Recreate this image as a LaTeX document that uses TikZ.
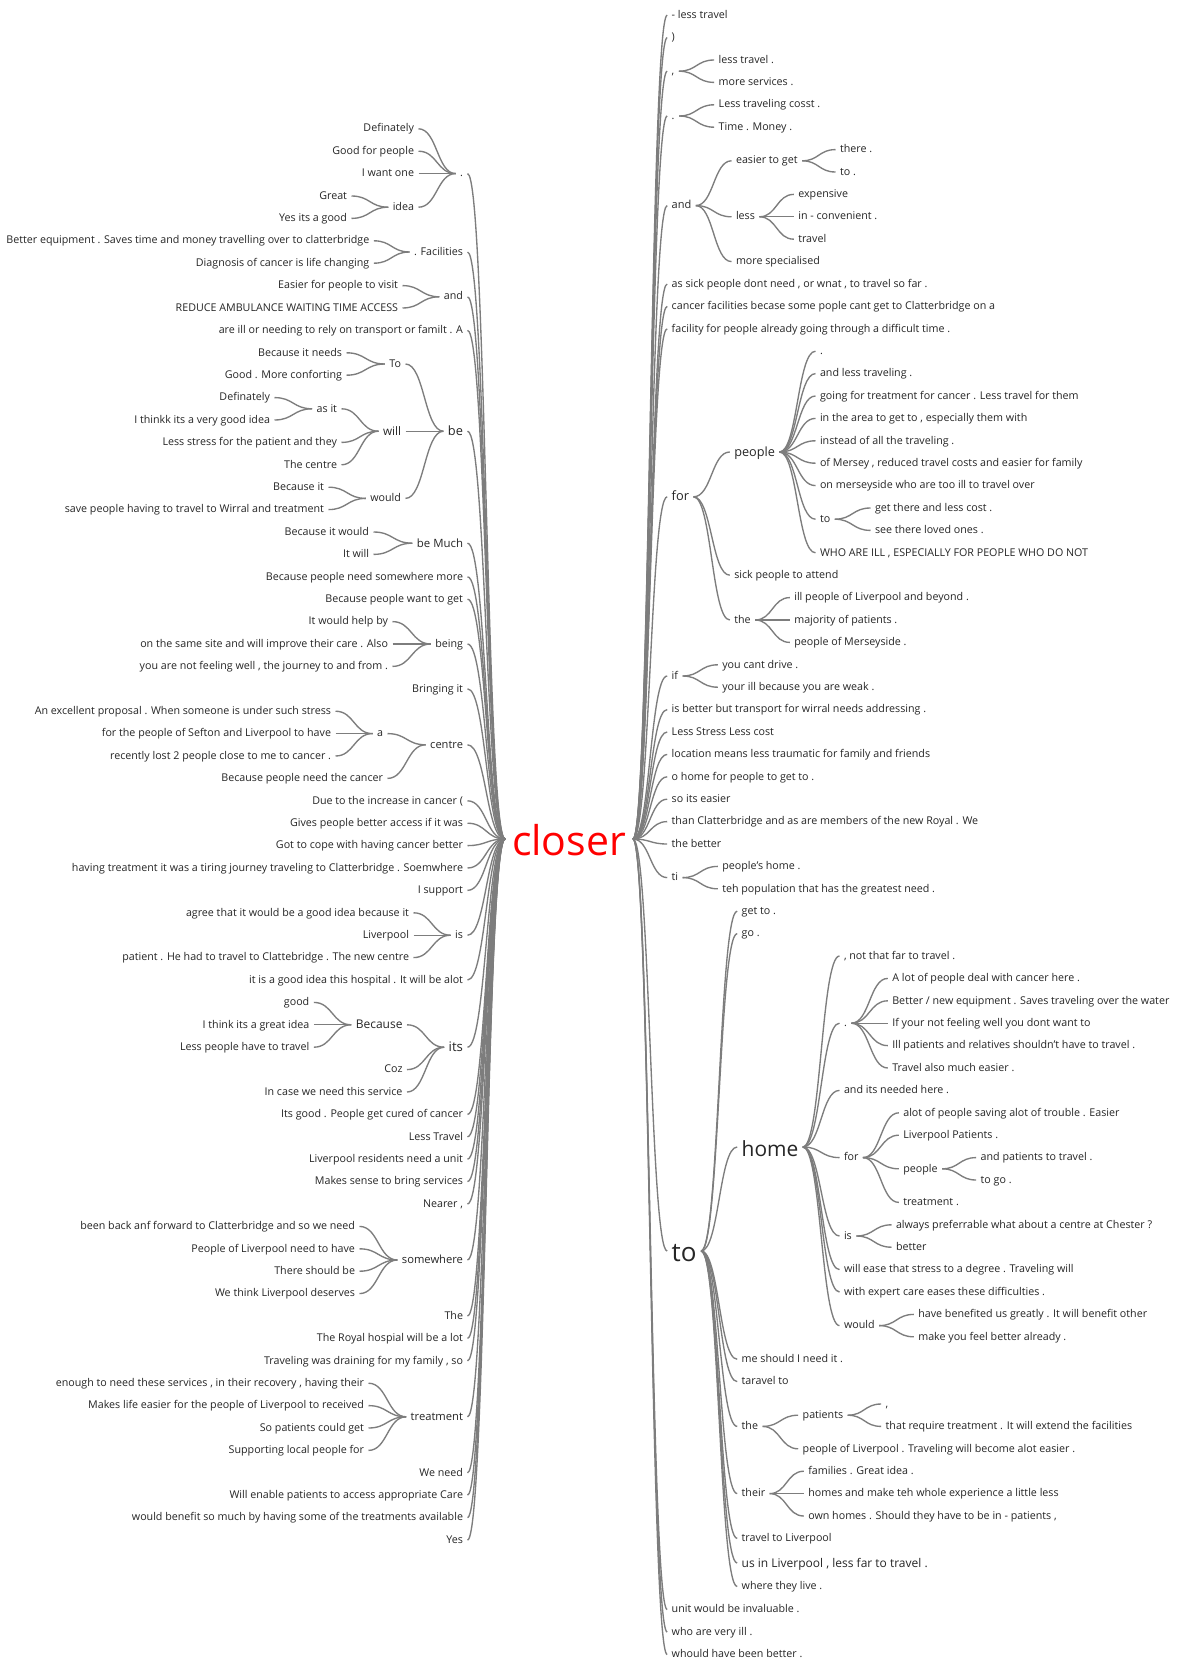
\documentclass[tikz,border=0pt]{standalone}
\usepackage{fontspec}
\setmainfont{Open Sans}
\usetikzlibrary{calc}
\definecolor{txt}{HTML}{262626}
\definecolor{lnk}{HTML}{7D7D7D}
\definecolor{rootred}{HTML}{FF0000}
\newcommand\rowL[1]{128.8+22.4*(#1)}
\newcommand\rowR[1]{15.2+22.4*(#1)}
\newcommand\fs[1]{\fontsize{#1}{#1}\selectfont}
\begin{document}
\begin{tikzpicture}[x=1pt,y=-1pt,
  w/.style={font=\fs{10.7}, text=txt, inner xsep=4.5pt, inner ysep=0pt, outer sep=0pt, text height=8pt, text depth=1.6pt},
  wl/.style={w,anchor=east},
  wr/.style={w,anchor=west},
  mid/.style={text height=9.2pt, text depth=1.2pt},
  link/.style={draw=lnk, line width=1.35pt, to path={let \p1=(\tikztostart), \p2=(\tikztotarget) in .. controls ({0.5*\x1+0.5*\x2},\y1) and ({0.5*\x1+0.5*\x2},\y2) .. (\tikztotarget)}}
]
\fill[white] (0,0) rectangle (1184,1661);
\useasboundingbox (0,0) rectangle (1184,1661);

% root
\node[w, anchor=center, font=\fs{41}, text=rootred, inner xsep=7pt, text height=34pt, text depth=2pt] (closer) at (569,839) {closer};

% ---------------- left side ----------------
\node[wl] (Ldot) at (467.5,{\rowL{2}}) {.};
\node[wl] (l0) at (418.5,{\rowL{0}}) {Definately};
\node[wl] (l1) at (418.5,{\rowL{1}}) {Good for people};
\node[wl] (l2) at (418.5,{\rowL{2}}) {I want one};
\node[wl] (Lidea) at (418.5,{\rowL{3.5}}) {idea};
\node[wl] (l3) at (351.5,{\rowL{3}}) {Great};
\node[wl] (l4) at (351.5,{\rowL{4}}) {Yes its a good};
\node[wl] (Lfac) at (467.5,{\rowL{5.5}}) {. Facilities};
\node[wl] (l5) at (373.8,{\rowL{5}}) {Better equipment . Saves time and money travelling over to clatterbridge};
\node[wl] (l6) at (373.8,{\rowL{6}}) {Diagnosis of cancer is life changing};
\node[wl] (Land) at (467.5,{\rowL{7.5}}) {and};
\node[wl] (l7) at (402.5,{\rowL{7}}) {Easier for people to visit};
\node[wl] (l8) at (402.5,{\rowL{8}}) {REDUCE AMBULANCE WAITING TIME ACCESS};
\node[wl] (l9) at (467.5,{\rowL{9}}) {are ill or needing to rely on transport or familt . A};
\node[wl, mid, font=\fs{12.8}] (Lbe) at (467.5,{\rowL{13.5}}) {be};
\node[wl] (LTo) at (405.5,{\rowL{10.5}}) {To};
\node[wl] (l10) at (346.5,{\rowL{10}}) {Because it needs};
\node[wl] (l11) at (346.5,{\rowL{11}}) {Good . More conforting};
\node[wl, mid, font=\fs{11.7}] (Lwill) at (405.5,{\rowL{13.5}}) {will};
\node[wl] (Lasit) at (341.5,{\rowL{12.5}}) {as it};
\node[wl] (l12) at (274.5,{\rowL{12}}) {Definately};
\node[wl] (l13) at (274.5,{\rowL{13}}) {I thinkk its a very good idea};
\node[wl] (l14) at (341.5,{\rowL{14}}) {Less stress for the patient and they};
\node[wl] (l15) at (341.5,{\rowL{15}}) {The centre};
\node[wl] (Lwould) at (405.5,{\rowL{16.5}}) {would};
\node[wl] (l16) at (328.5,{\rowL{16}}) {Because it};
\node[wl] (l17) at (328.5,{\rowL{17}}) {save people having to travel to Wirral and treatment};
\node[wl, mid, font=\fs{11.4}] (Lbemuch) at (467.5,{\rowL{18.5}}) {be Much};
\node[wl] (l18) at (373.5,{\rowL{18}}) {Because it would};
\node[wl] (l19) at (373.5,{\rowL{19}}) {It will};
\node[wl] (l20) at (467.5,{\rowL{20}}) {Because people need somewhere more};
\node[wl] (l21) at (467.5,{\rowL{21}}) {Because people want to get};
\node[wl] (Lbeing) at (467.5,{\rowL{23}}) {being};
\node[wl] (l22) at (392.5,{\rowL{22}}) {It would help by};
\node[wl] (l23) at (392.5,{\rowL{23}}) {on the same site and will improve their care . Also};
\node[wl] (l24) at (392.5,{\rowL{24}}) {you are not feeling well , the journey to and from .};
\node[wl] (l25) at (467.5,{\rowL{25}}) {Bringing it};
\node[wl, font=\fs{11.1}] (Lcentre) at (467.5,{\rowL{27.5}}) {centre};
\node[wl] (La) at (387.5,{\rowL{27}}) {a};
\node[wl] (l26) at (335.5,{\rowL{26}}) {An excellent proposal . When someone is under such stress};
\node[wl] (l27) at (335.5,{\rowL{27}}) {for the people of Sefton and Liverpool to have};
\node[wl] (l28) at (335.5,{\rowL{28}}) {recently lost 2 people close to me to cancer .};
\node[wl] (l29) at (387.5,{\rowL{29}}) {Because people need the cancer};
\node[wl] (l30) at (467.5,{\rowL{30}}) {Due to the increase in cancer (};
\node[wl] (l31) at (467.5,{\rowL{31}}) {Gives people better access if it was};
\node[wl] (l32) at (467.5,{\rowL{32}}) {Got to cope with having cancer better};
\node[wl] (l33) at (467.5,{\rowL{33}}) {having treatment it was a tiring journey traveling to Clatterbridge . Soemwhere};
\node[wl] (l34) at (467.5,{\rowL{34}}) {I support};
\node[wl] (Lis) at (467.5,{\rowL{36}}) {is};
\node[wl] (l35) at (413.5,{\rowL{35}}) {agree that it would be a good idea because it};
\node[wl] (l36) at (413.5,{\rowL{36}}) {Liverpool};
\node[wl] (l37) at (413.5,{\rowL{37}}) {patient . He had to travel to Clattebridge . The new centre};
\node[wl] (l38) at (467.5,{\rowL{38}}) {it is a good idea this hospital . It will be alot};
\node[wl, mid, font=\fs{13.2}] (Lits) at (467.5,{\rowL{41}}) {its};
\node[wl, mid, font=\fs{12}] (LBecause) at (407,{\rowL{40}}) {Because};
\node[wl] (l39) at (313.8,{\rowL{39}}) {good};
\node[wl] (l40) at (313.8,{\rowL{40}}) {I think its a great idea};
\node[wl] (l41) at (313.8,{\rowL{41}}) {Less people have to travel};
\node[wl] (l42) at (407,{\rowL{42}}) {Coz};
\node[wl] (l43) at (407,{\rowL{43}}) {In case we need this service};
\node[wl] (l44) at (467.5,{\rowL{44}}) {Its good . People get cured of cancer};
\node[wl] (l45) at (467.5,{\rowL{45}}) {Less Travel};
\node[wl] (l46) at (467.5,{\rowL{46}}) {Liverpool residents need a unit};
\node[wl] (l47) at (467.5,{\rowL{47}}) {Makes sense to bring services};
\node[wl] (l48) at (467.5,{\rowL{48}}) {Nearer ,};
\node[wl, font=\fs{11.2}] (Lsomewhere) at (467.5,{\rowL{50.5}}) {somewhere};
\node[wl] (l49) at (359.5,{\rowL{49}}) {been back anf forward to Clatterbridge and so we need};
\node[wl] (l50) at (359.5,{\rowL{50}}) {People of Liverpool need to have};
\node[wl] (l51) at (359.5,{\rowL{51}}) {There should be};
\node[wl] (l52) at (359.5,{\rowL{52}}) {We think Liverpool deserves};
\node[wl] (l53) at (467.5,{\rowL{53}}) {The};
\node[wl] (l54) at (467.5,{\rowL{54}}) {The Royal hospial will be a lot};
\node[wl] (l55) at (467.5,{\rowL{55}}) {Traveling was draining for my family , so};
\node[wl, font=\fs{11.2}] (Ltreat) at (467.5,{\rowL{57.5}}) {treatment};
\node[wl] (l56) at (368.5,{\rowL{56}}) {enough to need these services , in their recovery , having their};
\node[wl] (l57) at (368.5,{\rowL{57}}) {Makes life easier for the people of Liverpool to received};
\node[wl] (l58) at (368.5,{\rowL{58}}) {So patients could get};
\node[wl] (l59) at (368.5,{\rowL{59}}) {Supporting local people for};
\node[wl] (l60) at (467.5,{\rowL{60}}) {We need};
\node[wl] (l61) at (467.5,{\rowL{61}}) {Will enable patients to access appropriate Care};
\node[wl] (l62) at (467.5,{\rowL{62}}) {would benefit so much by having some of the treatments available};
\node[wl] (l63) at (467.5,{\rowL{63}}) {Yes};

% ---------------- right side ----------------
\node[wr] (r0) at (667.2,{\rowR{0}}) {- less travel};
\node[wr] (r1) at (667.2,{\rowR{1}}) {)};
\node[wr] (Rcomma) at (667.2,{\rowR{2.5}}) {,};
\node[wr] (r2) at (714.2,{\rowR{2}}) {less travel .};
\node[wr] (r3) at (714.2,{\rowR{3}}) {more services .};
\node[wr] (Rdot) at (667.2,{\rowR{4.5}}) {.};
\node[wr] (r4) at (714.2,{\rowR{4}}) {Less traveling cosst .};
\node[wr] (r5) at (714.2,{\rowR{5}}) {Time . Money .};
\node[wr, font=\fs{11}] (Rand) at (667.2,{\rowR{8.5}}) {and};
\node[wr] (Reasier) at (731.5,{\rowR{6.5}}) {easier to get};
\node[wr] (r6) at (835.5,{\rowR{6}}) {there .};
\node[wr] (r7) at (835.5,{\rowR{7}}) {to .};
\node[wr] (Rless) at (731.5,{\rowR{9}}) {less};
\node[wr] (r8) at (793.8,{\rowR{8}}) {expensive};
\node[wr] (r9) at (793.8,{\rowR{9}}) {in - convenient .};
\node[wr] (r10) at (793.8,{\rowR{10}}) {travel};
\node[wr] (r11) at (731.5,{\rowR{11}}) {more specialised};
\node[wr] (r12) at (667.2,{\rowR{12}}) {as sick people dont need , or wnat , to travel so far .};
\node[wr] (r13) at (667.2,{\rowR{13}}) {cancer facilities becase some pople cant get to Clatterbridge on a};
\node[wr] (r14) at (667.2,{\rowR{14}}) {facility for people already going through a difficult time .};
\node[wr, mid, font=\fs{12.8}] (Rfor) at (667.2,{\rowR{21.5}}) {for};
\node[wr, mid, font=\fs{12.7}] (Rpeople) at (729.8,{\rowR{19.5}}) {people};
\node[wr] (r15) at (815.5,{\rowR{15}}) {.};
\node[wr] (r16) at (815.5,{\rowR{16}}) {and less traveling .};
\node[wr] (r17) at (815.5,{\rowR{17}}) {going for treatment for cancer . Less travel for them};
\node[wr] (r18) at (815.5,{\rowR{18}}) {in the area to get to , especially them with};
\node[wr] (r19) at (815.5,{\rowR{19}}) {instead of all the traveling .};
\node[wr] (r20) at (815.5,{\rowR{20}}) {of Mersey , reduced travel costs and easier for family};
\node[wr] (r21) at (815.5,{\rowR{21}}) {on merseyside who are too ill to travel over};
\node[wr] (Rto2) at (815.5,{\rowR{22.5}}) {to};
\node[wr] (r22) at (870.5,{\rowR{22}}) {get there and less cost .};
\node[wr] (r23) at (870.5,{\rowR{23}}) {see there loved ones .};
\node[wr] (r24) at (815.5,{\rowR{24}}) {WHO ARE ILL , ESPECIALLY FOR PEOPLE WHO DO NOT};
\node[wr] (r25) at (729.8,{\rowR{25}}) {sick people to attend};
\node[wr] (Rthe) at (729.8,{\rowR{27}}) {the};
\node[wr] (r26) at (789.8,{\rowR{26}}) {ill people of Liverpool and beyond .};
\node[wr] (r27) at (789.8,{\rowR{27}}) {majority of patients .};
\node[wr] (r28) at (789.8,{\rowR{28}}) {people of Merseyside .};
\node[wr] (Rif) at (667.2,{\rowR{29.5}}) {if};
\node[wr] (r29) at (717.8,{\rowR{29}}) {you cant drive .};
\node[wr] (r30) at (717.8,{\rowR{30}}) {your ill because you are weak .};
\node[wr] (r31) at (667.2,{\rowR{31}}) {is better but transport for wirral needs addressing .};
\node[wr] (r32) at (667.2,{\rowR{32}}) {Less Stress Less cost};
\node[wr] (r33) at (667.2,{\rowR{33}}) {location means less traumatic for family and friends};
\node[wr] (r34) at (667.2,{\rowR{34}}) {o home for people to get to .};
\node[wr] (r35) at (667.2,{\rowR{35}}) {so its easier};
\node[wr] (r36) at (667.2,{\rowR{36}}) {than Clatterbridge and as are members of the new Royal . We};
\node[wr] (r37) at (667.2,{\rowR{37}}) {the better};
\node[wr] (Rti) at (667.2,{\rowR{38.5}}) {ti};
\node[wr] (r38) at (717.8,{\rowR{38}}) {people's home .};
\node[wr] (r39) at (717.8,{\rowR{39}}) {teh population that has the greatest need .};
\node[wr, font=\fs{26}, text height=22pt, text depth=0.6pt] (Rto) at (667.2,1251) {to};
\node[wr] (r40) at (737.2,{\rowR{40}}) {get to .};
\node[wr] (r41) at (737.2,{\rowR{41}}) {go .};
\node[wr, font=\fs{20.9}, text height=18.5pt, text depth=0.5pt] (Rhome) at (737.2,1147) {home};
\node[wr] (r42) at (839.5,{\rowR{42}}) {, not that far to travel .};
\node[wr] (Rdot2) at (839.5,{\rowR{45}}) {.};
\node[wr] (r43) at (887.8,{\rowR{43}}) {A lot of people deal with cancer here .};
\node[wr] (r44) at (887.8,{\rowR{44}}) {Better / new equipment . Saves traveling over the water};
\node[wr] (r45) at (887.8,{\rowR{45}}) {If your not feeling well you dont want to};
\node[wr] (r46) at (887.8,{\rowR{46}}) {Ill patients and relatives shouldn't have to travel .};
\node[wr] (r47) at (887.8,{\rowR{47}}) {Travel also much easier .};
\node[wr] (r48) at (839.5,{\rowR{48}}) {and its needed here .};
\node[wr] (Rfor2) at (839.5,{\rowR{51}}) {for};
\node[wr] (r49) at (898.8,{\rowR{49}}) {alot of people saving alot of trouble . Easier};
\node[wr] (r50) at (898.8,{\rowR{50}}) {Liverpool Patients .};
\node[wr] (Rpeople2) at (898.8,{\rowR{51.5}}) {people};
\node[wr] (r51) at (976.2,{\rowR{51}}) {and patients to travel .};
\node[wr] (r52) at (976.2,{\rowR{52}}) {to go .};
\node[wr] (r53) at (898.8,{\rowR{53}}) {treatment .};
\node[wr] (Ris) at (839.5,{\rowR{54.5}}) {is};
\node[wr] (r54) at (891.5,{\rowR{54}}) {always preferrable what about a centre at Chester ?};
\node[wr] (r55) at (891.5,{\rowR{55}}) {better};
\node[wr] (r56) at (839.5,{\rowR{56}}) {will ease that stress to a degree . Traveling will};
\node[wr] (r57) at (839.5,{\rowR{57}}) {with expert care eases these difficulties .};
\node[wr] (Rwould) at (839.5,{\rowR{58.5}}) {would};
\node[wr] (r58) at (913.8,{\rowR{58}}) {have benefited us greatly . It will benefit other};
\node[wr] (r59) at (913.8,{\rowR{59}}) {make you feel better already .};
\node[wr] (r60) at (737.2,{\rowR{60}}) {me should I need it .};
\node[wr] (r61) at (737.2,{\rowR{61}}) {taravel to};
\node[wr] (Rthe2) at (737.2,{\rowR{63}}) {the};
\node[wr] (Rpatients) at (798.2,{\rowR{62.5}}) {patients};
\node[wr] (r62) at (881.2,{\rowR{62}}) {,};
\node[wr] (r63) at (881.2,{\rowR{63}}) {that require treatment . It will extend the facilities};
\node[wr] (r64) at (798.2,{\rowR{64}}) {people of Liverpool . Traveling will become alot easier .};
\node[wr] (Rtheir) at (737.2,{\rowR{66}}) {their};
\node[wr] (r65) at (803.8,{\rowR{65}}) {families . Great idea .};
\node[wr] (r66) at (803.8,{\rowR{66}}) {homes and make teh whole experience a little less};
\node[wr] (r67) at (803.8,{\rowR{67}}) {own homes . Should they have to be in - patients ,};
\node[wr] (r68) at (737.2,{\rowR{68}}) {travel to Liverpool};
\node[wr, mid, font=\fs{12}] (r69) at (737.2,1563) {us in Liverpool , less far to travel .};
\node[wr] (r70) at (737.2,1586.5) {where they live .};
\node[wr] (r71) at (667.2,1609.5) {unit would be invaluable .};
\node[wr] (r72) at (667.2,1632) {who are very ill .};
\node[wr] (r73) at (667.2,1654.5) {whould have been better .};

% ---------------- connectors ----------------
\foreach \cc/\pp in {l0/Ldot,l1/Ldot,l2/Ldot,Lidea/Ldot,l3/Lidea,l4/Lidea,l5/Lfac,l6/Lfac,l7/Land,l8/Land,
  l10/LTo,l11/LTo,l12/Lasit,l13/Lasit,Lasit/Lwill,l14/Lwill,l15/Lwill,l16/Lwould,l17/Lwould,
  LTo/Lbe,Lwill/Lbe,Lwould/Lbe,l18/Lbemuch,l19/Lbemuch,l22/Lbeing,l23/Lbeing,l24/Lbeing,
  l26/La,l27/La,l28/La,La/Lcentre,l29/Lcentre,l35/Lis,l36/Lis,l37/Lis,
  l39/LBecause,l40/LBecause,l41/LBecause,LBecause/Lits,l42/Lits,l43/Lits,
  l49/Lsomewhere,l50/Lsomewhere,l51/Lsomewhere,l52/Lsomewhere,
  l56/Ltreat,l57/Ltreat,l58/Ltreat,l59/Ltreat}
  \draw[link] (\cc.east) to (\pp.west);
\foreach \cc in {Ldot,Lfac,Land,l9,Lbe,Lbemuch,l20,l21,Lbeing,l25,Lcentre,l30,l31,l32,l33,l34,Lis,l38,
  Lits,l44,l45,l46,l47,l48,Lsomewhere,l53,l54,l55,Ltreat,l60,l61,l62,l63}
  \draw[link] (\cc.east) to (closer.west);
\foreach \cc in {r0,r1,Rcomma,Rdot,Rand,r12,r13,r14,Rfor,Rif,r31,r32,r33,r34,r35,r36,r37,Rti,Rto,r71,r72,r73}
  \draw[link] (closer.east) to (\cc.west);
\foreach \pp/\cc in {Rcomma/r2,Rcomma/r3,Rdot/r4,Rdot/r5,Rand/Reasier,Rand/Rless,Rand/r11,
  Reasier/r6,Reasier/r7,Rless/r8,Rless/r9,Rless/r10,Rfor/Rpeople,Rfor/r25,Rfor/Rthe,
  Rpeople/r15,Rpeople/r16,Rpeople/r17,Rpeople/r18,Rpeople/r19,Rpeople/r20,Rpeople/r21,Rpeople/Rto2,Rpeople/r24,
  Rto2/r22,Rto2/r23,Rthe/r26,Rthe/r27,Rthe/r28,Rif/r29,Rif/r30,Rti/r38,Rti/r39,
  Rto/r40,Rto/r41,Rto/Rhome,Rto/r60,Rto/r61,Rto/Rthe2,Rto/Rtheir,Rto/r68,Rto/r69,Rto/r70,
  Rhome/r42,Rhome/Rdot2,Rhome/r48,Rhome/Rfor2,Rhome/Ris,Rhome/r56,Rhome/r57,Rhome/Rwould,
  Rdot2/r43,Rdot2/r44,Rdot2/r45,Rdot2/r46,Rdot2/r47,Rfor2/r49,Rfor2/r50,Rfor2/Rpeople2,Rfor2/r53,
  Rpeople2/r51,Rpeople2/r52,Ris/r54,Ris/r55,Rwould/r58,Rwould/r59,
  Rthe2/Rpatients,Rthe2/r64,Rpatients/r62,Rpatients/r63,Rtheir/r65,Rtheir/r66,Rtheir/r67}
  \draw[link] (\pp.east) to (\cc.west);
\end{tikzpicture}
\end{document}
